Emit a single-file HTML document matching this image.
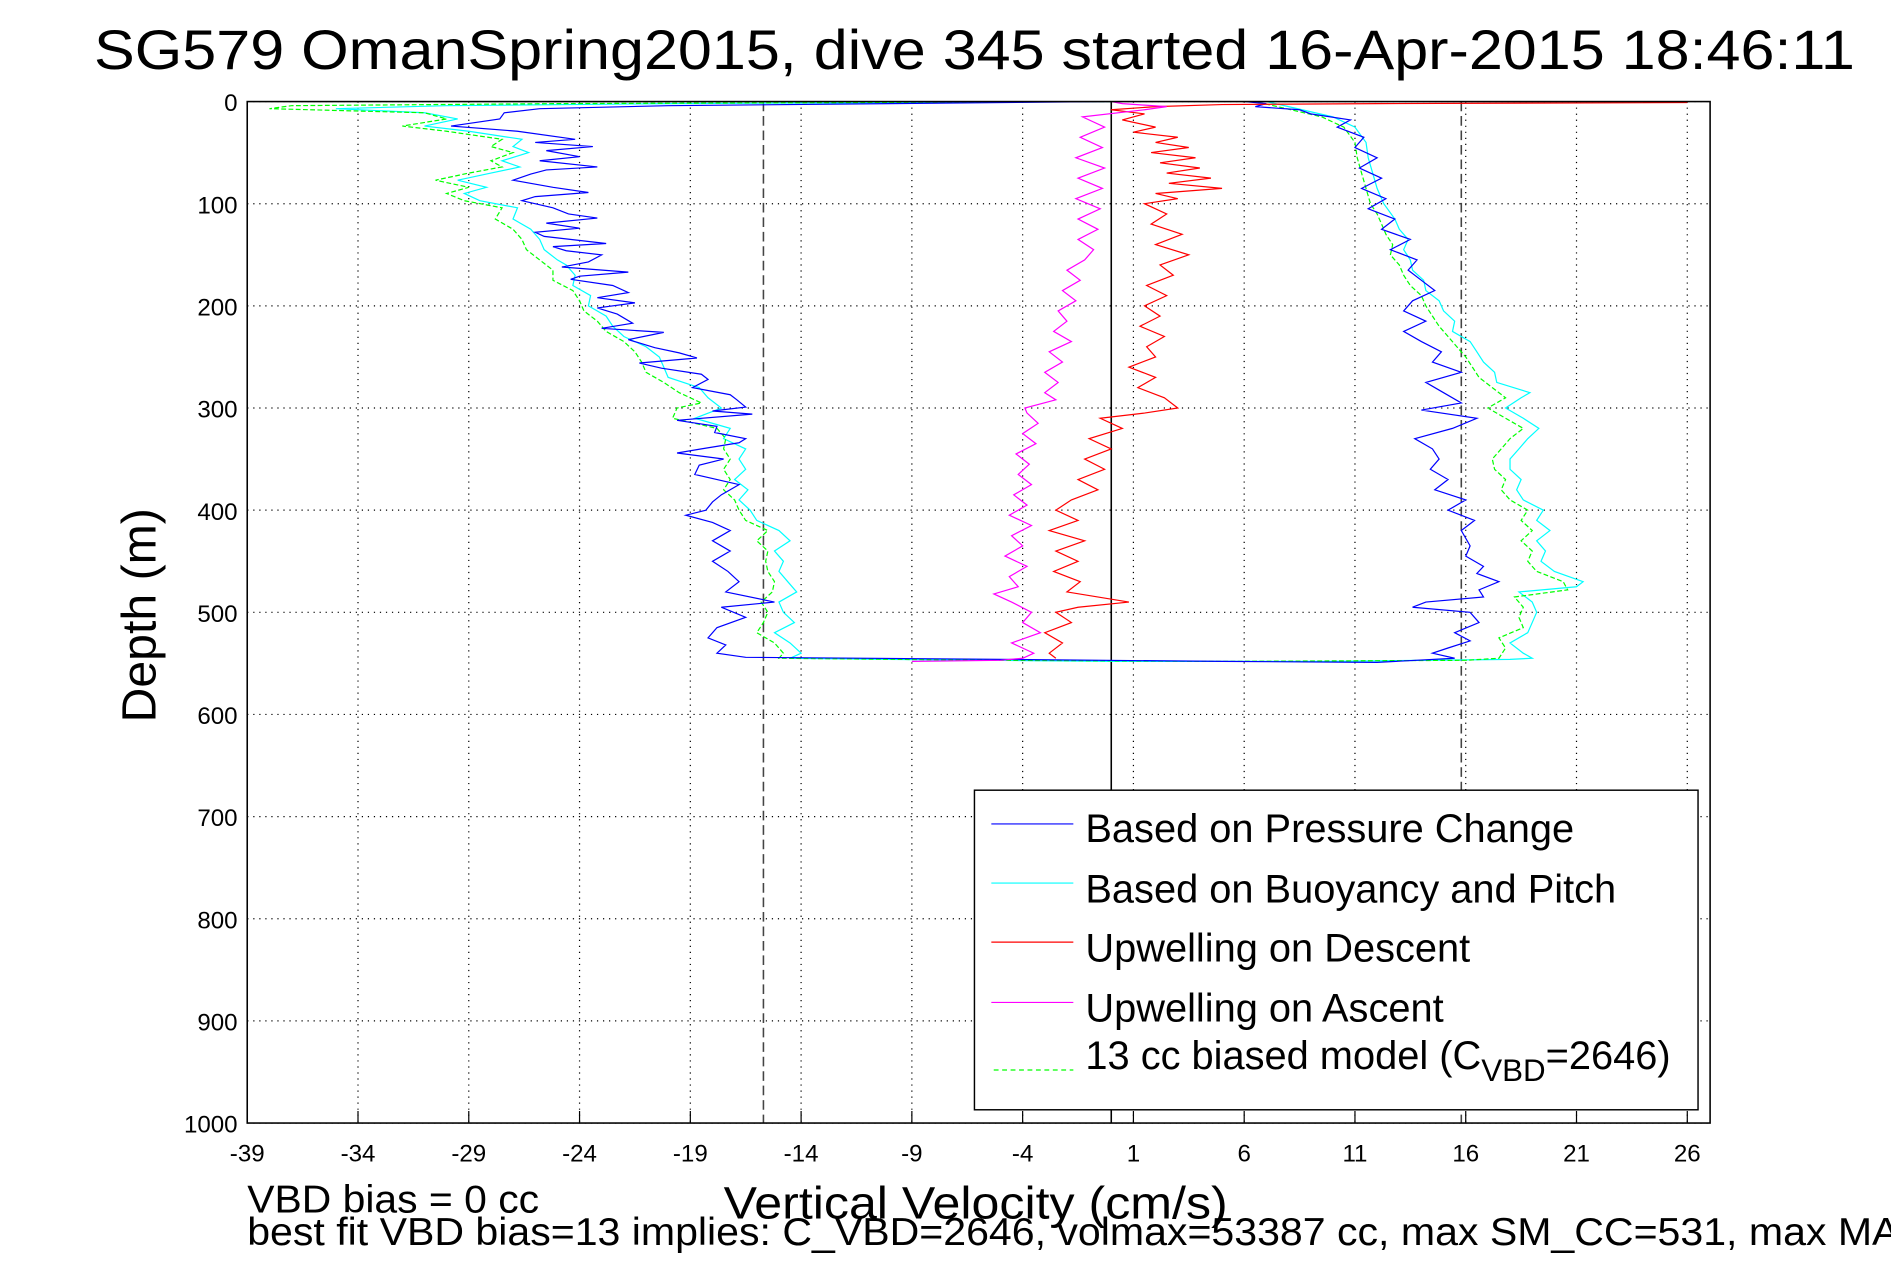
<!DOCTYPE html>
<html><head><meta charset="utf-8"><style>
html,body{margin:0;padding:0;background:#fff;}
svg{display:block;font-family:"Liberation Sans",sans-serif;}
</style></head><body>
<svg id="chart" width="1891" height="1262" viewBox="0 0 1568 1046" xmlns="http://www.w3.org/2000/svg">
<rect x="0" y="0" width="1568" height="1046" fill="#fff"/>
<text x="78" y="57" font-size="46" textLength="1460" lengthAdjust="spacingAndGlyphs">SG579 OmanSpring2015, dive 345 started 16-Apr-2015 18:46:11</text>
<g id="grid"></g>
<g id="series"></g>
<g id="axes"></g>
<text transform="translate(129,510) rotate(-90)" text-anchor="middle" font-size="40">Depth (m)</text>
<text x="600" y="1010" font-size="38" textLength="418" lengthAdjust="spacingAndGlyphs">Vertical Velocity (cm/s)</text>
<text x="205" y="1005" font-size="32" textLength="242" lengthAdjust="spacingAndGlyphs">VBD bias = 0 cc</text>
<text x="205" y="1032" font-size="32" textLength="1370" lengthAdjust="spacingAndGlyphs">best fit VBD bias=13 implies: C_VBD=2646, volmax=53387 cc, max SM_CC=531, max MA</text>
<g>
<rect x="808" y="655" width="600" height="265" fill="#fff" stroke="#000" stroke-width="1.2"/>
<line x1="822" y1="683" x2="890" y2="683" stroke="#0000ff"/>
<text x="900" y="698" font-size="33">Based on Pressure Change</text>
<line x1="822" y1="732" x2="890" y2="732" stroke="#00ffff"/>
<text x="900" y="748" font-size="33">Based on Buoyancy and Pitch</text>
<line x1="822" y1="781" x2="890" y2="781" stroke="#ff0000"/>
<text x="900" y="797" font-size="33">Upwelling on Descent</text>
<line x1="822" y1="831" x2="890" y2="831" stroke="#ff00ff"/>
<text x="900" y="847" font-size="33">Upwelling on Ascent</text>
<line x1="824" y1="887" x2="890" y2="887" stroke="#00ff00" stroke-dasharray="4,3"/>
<text x="900" y="886" font-size="33">13 cc biased model (C<tspan font-size="26" dy="10">VBD</tspan><tspan dy="-10">=2646)</tspan></text>
</g>
</svg>
<script>
const xTicks=[-39,-34,-29,-24,-19,-14,-9,-4,1,6,11,16,21,26];
const yTicks=[0,100,200,300,400,500,600,700,800,900,1000];
const refLines=[-15.7,15.8];
const blueDepth=[0,2,4,7,11,17,24,29,37,40,44,48,54,58,64,67,71,77,84,89,93,97,104,110,114,119,124,128,132,139,142,146,150,157,162,167,171,174,180,187,192,197,202,208,217,222,226,233,241,246,251,256,261,267,272,280,287,292,299,303,306,312,318,324,330,334,340,344,350,356,365,375,385,392,400,405,412,420,430,440,450,460,470,480,490,495,505,515,525,532,540,544,546,548,549,545,540,535,528,520,510,500,495,490,485,478,470,462,455,445,435,420,410,400,390,380,370,360,350,340,330,320,310,302,295,285,275,265,255,245,235,225,215,205,195,185,175,165,155,145,135,125,115,105,95,85,75,65,55,45,35,25,18,12,8,5,2,0];
const blueVel=[0,-10,-20,-25.8,-27.4,-27.6,-29.8,-26.8,-24.2,-26,-23.4,-25.5,-24,-25.8,-23.2,-25.5,-26.2,-27,-25.2,-23.6,-26,-26.6,-25.2,-24.5,-23.2,-25.5,-24,-26,-25.6,-22.8,-25.2,-24.6,-23,-23.6,-24.8,-21.8,-24,-24.4,-22.5,-21.8,-23.2,-21.5,-23.2,-22.3,-21.6,-23,-20.2,-21.8,-20.6,-19.5,-18.7,-21.3,-20.3,-18.5,-18.2,-18.9,-17.2,-16.9,-16.5,-18,-16.2,-19.6,-17.8,-17.9,-16.5,-16.8,-18.5,-19.6,-17.5,-18.6,-18.8,-16.8,-17.6,-18,-18.3,-19.2,-18,-17.2,-18,-17.2,-18,-17.3,-16.8,-17.4,-15.2,-17.6,-16.5,-17.8,-18.2,-17.4,-17.8,-16.5,-5,5,12,15.5,14.5,15.2,16.2,15.5,16.6,16.2,13.6,14.2,16.8,16.6,17.5,16.5,16.8,16,16.2,15.8,16.4,15.2,16,14.6,15.2,14.4,14.8,14.5,13.7,15.4,16.5,14,15.8,15,14.2,15.8,14.5,14.9,14,13.2,14.2,13.2,13.6,14.6,14,13.4,13.8,12.6,13.5,12.2,12.8,11.6,12.4,11.3,12.2,11.2,12,11,11.4,10.2,10.8,9,8.5,6.5,7,6];
const cyanDepth=[0,2,4,7,11,17,24,29,37,44,50,58,64,70,77,84,90,97,104,115,125,135,145,155,160,170,180,190,200,210,220,230,240,250,260,270,280,290,300,310,320,330,340,350,360,370,380,390,400,410,420,430,440,450,460,470,480,490,500,510,520,530,540,545,546,548,548,546,545,540,530,520,510,500,490,480,475,470,460,450,440,430,420,410,400,390,380,370,360,350,340,330,320,310,300,290,285,275,265,255,245,235,225,215,205,195,185,175,165,155,145,135,125,115,100,85,70,55,40,25,15,5,0];
const cyanVel=[0,-20,-30,-35,-31,-29.5,-31,-29,-26.6,-27,-26.3,-27.5,-26.7,-28,-29.5,-28.2,-29.2,-28.5,-26.8,-27,-26.2,-25.8,-25.6,-25,-24.6,-24.2,-24.3,-23.5,-23.6,-22.8,-22.5,-22,-21,-20.4,-20.2,-20,-18.6,-18.2,-17.6,-18.8,-17.2,-17.5,-16.5,-16.8,-16.5,-17,-16.4,-16.8,-16.3,-16,-15,-14.5,-15.2,-14.8,-15,-14.6,-14.2,-15,-14.8,-14.3,-15.2,-14.5,-14,-14.5,-10,0,10,18,19,18.6,18,18.8,19,19.2,19,18.4,21,21.3,20,19.4,19.6,19.2,19.8,19.2,19.5,18.6,18.3,18.5,18,18,18.4,18.8,19.3,18.6,17.8,18.5,18.9,17.4,17.3,16.8,16.5,16.2,15.4,15.5,15,14.8,14.2,14.1,13.6,13.5,13.2,13.4,13,12.8,12.3,12,11.8,11.6,11.5,11,10,8,7];
const greenDepth=[0,2,4,7,11,17,24,29,37,44,50,58,64,70,77,84,90,97,104,115,125,135,145,155,165,175,185,195,205,215,225,235,245,255,265,275,285,295,300,310,320,330,340,350,360,370,380,390,400,410,420,430,440,450,460,470,480,490,500,510,520,530,540,545,547,548,547,545,535,525,515,505,495,485,478,470,460,450,440,430,420,410,400,390,380,370,360,350,340,330,320,310,300,290,280,270,260,250,240,230,220,210,200,190,180,170,160,150,140,130,120,110,100,85,70,55,40,25,15,5,0];
const greenVel=[0,-25,-37,-38,-31,-30,-32,-30,-27.5,-28,-27,-28,-27.5,-29,-30.5,-29,-30,-29.2,-27.5,-27.8,-27,-26.6,-26.4,-25.8,-25.2,-25.2,-24.3,-24,-23.8,-23.2,-22.8,-22,-21.5,-21.2,-21,-20.2,-19.5,-18.5,-19.6,-19.8,-17.8,-17.4,-17.5,-17.2,-17.5,-17.2,-17.5,-17,-16.8,-16.5,-15.5,-16,-15.5,-15.6,-15.5,-15.2,-15.3,-15.8,-15.5,-15.7,-16,-15.2,-14.8,-15,-5,5,16,17.5,17.8,17.5,18.6,18.4,18.6,18.2,20.6,20.4,19.2,18.8,19,18.5,19,18.5,18.8,18,17.6,17.8,17.3,17.2,17.6,18,18.6,17.8,17,17.8,17.2,16.6,16.3,16,15.6,15.2,14.8,14.5,14.2,14,13.5,13.2,13,12.6,12.7,12.4,12.2,12,11.7,11.5,11.3,11.1,11,10.5,9.5,7.5,6.5];
const redDepth=[0,1,2,3,5,8,12,18,25,30,35,40,45,50,55,60,65,70,75,80,85,90,95,100,110,120,130,140,150,160,170,180,190,200,210,220,230,240,250,260,270,280,290,300,305,310,320,330,340,350,360,370,380,390,400,410,420,430,440,450,460,470,480,490,495,500,510,520,530,540,545];
const redVel=[24,26,12,5,2,0,1.5,0.5,2,1,3,2,3.5,1.8,3.8,2.2,4,2.5,4.5,2.6,5,2,3,1.5,2.5,1.8,3.2,2,3.5,2.2,2.8,1.6,2.5,1.5,2.2,1.3,2.4,1.6,2,0.8,2,1.2,2.4,3,1.5,-0.5,0.5,-1,0,-1.2,-0.3,-1.5,-0.6,-1.8,-2.5,-1.5,-2.8,-1.2,-2.5,-1.5,-2.6,-1.4,-2,0.8,-1.5,-2.5,-1.8,-3,-2.2,-2.8,-2.5];
const magDepth=[548,547,545,540,530,520,510,500,490,482,475,465,455,445,435,425,415,405,395,385,375,365,355,345,335,325,315,305,300,292,285,275,265,255,245,235,225,215,205,195,185,175,165,155,145,135,125,115,105,95,85,75,65,55,45,35,25,15,8,5,2,0];
const magVel=[-9,-5,-4,-3.5,-4.5,-3.2,-4,-3.6,-4.5,-5.3,-4.2,-4.6,-3.8,-4.8,-4,-4.5,-3.6,-4.6,-3.8,-4.4,-3.6,-4.2,-3.7,-4.3,-3.4,-4,-3.3,-3.8,-3.9,-2.5,-3,-2.4,-3,-2.2,-2.8,-1.8,-2.6,-2,-2.4,-1.6,-2.2,-1.4,-2,-1.2,-0.8,-1.5,-0.6,-1.5,-0.5,-1.6,-0.4,-1.5,-0.3,-1.6,-0.4,-1.4,-0.3,-1.3,1.5,2.5,0.5,0];

const NS='http://www.w3.org/2000/svg';
const L=205,R=1418,T=84,B=931,XMIN=-39,XMAX=27.03,YMAX=1000;
function X(v){return L+(v-XMIN)/(XMAX-XMIN)*(R-L);}
function Y(d){return T+d/YMAX*(B-T);}
function mk(tag,attrs,parent){const e=document.createElementNS(NS,tag);for(const k in attrs)e.setAttribute(k,attrs[k]);parent.appendChild(e);return e;}
const grid=document.getElementById('grid'),axes=document.getElementById('axes'),series=document.getElementById('series');
xTicks.forEach(t=>{
  const g=mk('line',{x1:X(t),x2:X(t),y1:T,y2:B,stroke:'#000','stroke-width':1,'stroke-dasharray':'1,4'},grid);
  
  
  const tk=mk('line',{x1:X(t),x2:X(t),y1:B,y2:B-10,stroke:'#000'},axes);
  
  
  const lb=mk('text',{x:X(t),y:963,'font-size':20,'text-anchor':'middle'},axes);
  lb.textContent=t;
  
  
});
yTicks.forEach(t=>{
  const g=mk('line',{x1:L,x2:R,y1:Y(t),y2:Y(t),stroke:'#000','stroke-width':1,'stroke-dasharray':'1,4'},grid);
  
  
  const lb=mk('text',{x:197,y:Y(t)+8,'font-size':20,'text-anchor':'end'},axes);
  lb.textContent=t;
  
  
});
refLines.forEach(v=>{
  const l=mk('line',{x1:X(v),x2:X(v),y1:T,y2:B,stroke:'#444','stroke-width':1.3,'stroke-dasharray':'8,4'},grid);
  
  
});
const zl=mk('line',{x1:X(0),x2:X(0),y1:T,y2:B,stroke:'#000','stroke-width':1.3},grid);


const box=mk('rect',{x:L,y:T,width:R-L,height:B-T,fill:'none',stroke:'#000','stroke-width':1.3},axes);


function draw(d,v,color,name,dash){
  const pts=d.map((dd,i)=>X(v[i]).toFixed(1)+','+Y(dd).toFixed(1)).join(' ');
  const p=mk('polyline',{points:pts,fill:'none',stroke:color,'stroke-width':1},series);
  if(dash)p.setAttribute('stroke-dasharray',dash);
  
  
}
draw(cyanDepth,cyanVel,'#00ffff','buoyancy-pitch-line');
draw(greenDepth,greenVel,'#00ff00','biased-model-line','4,2');
draw(blueDepth,blueVel,'#0000ff','pressure-change-line');
draw(redDepth,redVel,'#ff0000','upwelling-descent-line');
draw(magDepth,magVel,'#ff00ff','upwelling-ascent-line');
</script>
</body></html>
